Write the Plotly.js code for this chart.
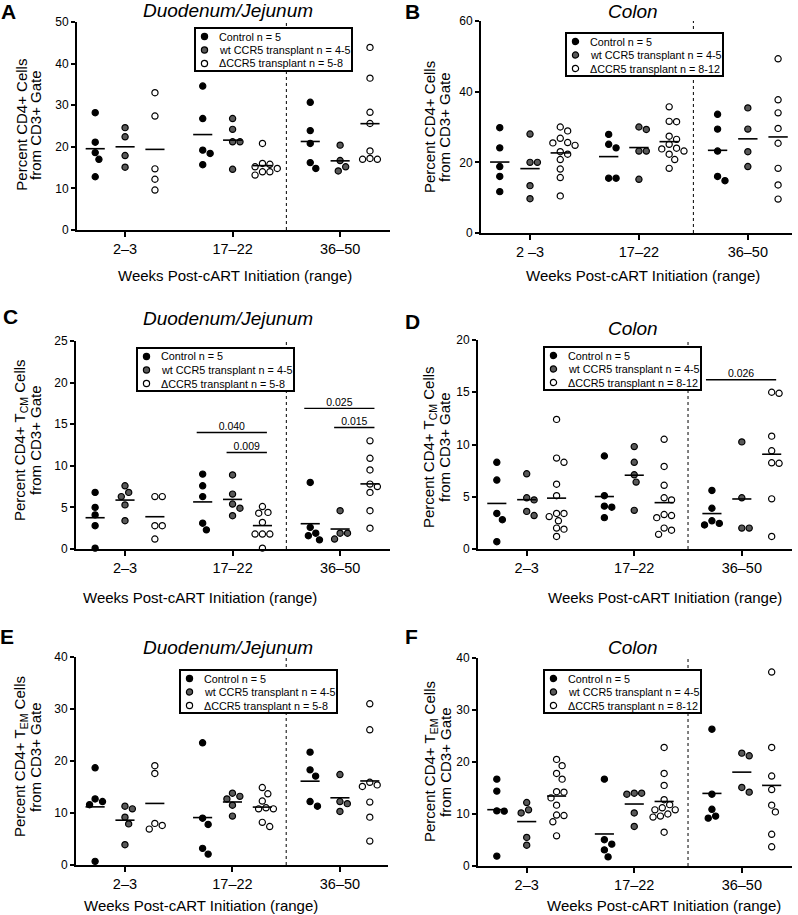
<!DOCTYPE html>
<html>
<head>
<meta charset="utf-8">
<script src="https://cdn.plot.ly/plotly-3.0.1.min.js"></script>
<style>
  html, body { margin: 0; padding: 0; background: #fff; }
  #chart { width: 798px; height: 915px; }
</style>
</head>
<body>
<div id="chart"></div>
<script>
// Values. Each array holds one list per week range
// (2-3, 17-22, 36-50 weeks post-cART).
const weekRanges = ['2–3', '17–22', '36–50'];
const weekRangesB = ['2 –3', '17–22', '36–50'];
const groupLabels = ['Control n = 5', 'wt CCR5 transplant n = 4-5', 'ΔCCR5 transplant n = '];

// A: CD4+ of CD3+, duodenum/jejunum
const aControl = [[28.2, 21.1, 18.6, 17.0, 12.8], [34.6, 26.8, 19.2, 18.4, 15.7], [30.7, 23.9, 20.8, 16.2, 14.8]];
const aWt = [[24.6, 22.4, 17.9, 15.1], [26.8, 24.2, 21.2, 21.2, 14.6], [20.4, 16.7, 15.2, 14.2]];
const aDelta = [[33.0, 27.4, 14.7, 12.2, 9.6], [20.8, 16.0, 15.8, 15.2, 14.8, 14.0, 14.0, 13.2], [43.9, 36.5, 28.3, 25.6, 19.0, 17.2, 17.0, 17.0]];

// B: CD4+ of CD3+, colon
const bControl = [[29.8, 24.1, 18.8, 16.0, 11.7], [27.9, 25.1, 24.1, 15.5, 15.5], [33.6, 29.4, 23.2, 16.0, 14.8]];
const bWt = [[28.0, 20.0, 20.0, 13.4, 9.7], [30.0, 29.3, 23.2, 23.2, 15.2], [35.4, 29.4, 23.0, 18.8]];
const bDelta = [[30.0, 28.9, 26.8, 25.6, 25.5, 24.8, 23.0, 22.3, 20.8, 18.1, 15.7, 10.5], [35.7, 31.6, 31.5, 27.4, 26.5, 25.1, 24.0, 23.8, 23.2, 22.3, 20.8, 18.3], [49.3, 37.7, 34.0, 29.6, 25.4, 18.3, 13.6, 9.6]];

// C: CD4+ TCM of CD3+, duodenum/jejunum
const cControl = [[6.8, 5.0, 4.1, 2.8, 0.1], [9.0, 7.6, 6.3, 3.1, 2.3], [8.0, 2.6, 1.9, 1.6, 1.1]];
const cWt = [[7.6, 6.8, 6.3, 5.3, 3.4], [8.9, 6.6, 5.4, 4.9, 4.0], [4.6, 1.9, 1.9, 1.2]];
const cDelta = [[6.3, 6.3, 2.8, 2.8, 1.2], [5.1, 4.4, 4.3, 3.2, 1.8, 1.8, 1.8, 0.1], [13.0, 10.9, 9.5, 7.8, 7.5, 6.8, 4.6, 2.5]];

// D: CD4+ TCM of CD3+, colon
const dControl = [[8.3, 6.6, 3.4, 2.8, 0.7], [8.9, 5.1, 4.1, 4.0, 3.0], [5.6, 3.9, 2.7, 2.45, 2.3]];
const dWt = [[7.2, 4.9, 4.7, 3.6, 3.2], [9.8, 8.3, 7.1, 6.4, 3.7], [10.25, 4.9, 2.0, 2.0]];
const dDelta = [[12.4, 8.7, 8.3, 6.2, 5.1, 3.4, 3.4, 3.1, 2.7, 2.0, 1.9, 1.2], [10.5, 7.9, 6.1, 4.9, 4.7, 3.3, 3.2, 3.0, 2.0, 1.8, 1.4], [15.0, 14.9, 10.8, 9.4, 8.25, 8.2, 4.8, 1.2]];

// E: CD4+ TEM of CD3+, duodenum/jejunum
const eControl = [[18.7, 12.7, 12.2, 11.6, 0.7], [23.5, 9.0, 7.8, 3.2, 2.1], [21.7, 18.3, 17.1, 12.2, 11.3]];
const eWt = [[11.3, 10.8, 9.2, 7.9, 3.9], [13.8, 13.2, 12.7, 11.5, 9.4], [17.4, 12.2, 11.8, 10.3]];
const eDelta = [[19.1, 17.6, 8.0, 7.6, 6.9], [14.9, 13.7, 12.3, 11.0, 10.8, 10.8, 8.2, 7.4], [31.0, 26.0, 15.9, 15.4, 15.1, 12.1, 9.2, 4.6]];

// F: CD4+ TEM of CD3+, colon
const fControl = [[16.7, 14.4, 10.6, 10.55, 1.9], [16.7, 5.05, 4.2, 3.1, 1.75], [26.3, 13.8, 10.9, 9.6, 9.2]];
const fWt = [[12.2, 10.8, 10.2, 5.5, 4.0], [14.0, 14.0, 13.8, 10.2, 7.6], [21.7, 21.2, 15.1, 14.2]];
const fDelta = [[20.5, 19.3, 17.8, 16.7, 14.3, 14.2, 13.1, 11.7, 9.8, 9.7, 8.5, 5.8], [22.8, 17.8, 15.5, 12.75, 11.8, 11.2, 10.8, 10.8, 10.0, 9.6, 9.4, 6.5], [37.3, 22.8, 17.3, 14.7, 11.7, 10.4, 6.1, 3.7]];

// significance bars: [week range, from group, to group, y value, p]
const cSig = [[1, 0, 2, 14.0, '0.040'], [1, 1, 2, 11.6, '0.009'], [2, 0, 2, 16.9, '0.025'], [2, 1, 2, 14.6, '0.015']];
const dSig = [[2, 0, 2, 16.2, '0.026']];

// ---- look ----
const FONT = 'Liberation Sans, Arial, Helvetica, sans-serif';
const W = 798, H = 915;
const CAT_POS = [0, 3.6, 7.2];      // week-range centres on the x axis
const GROUP_OFF = [-1, 0, 1];        // control / wt / delta within a range
const FILL = ['#000000', '#595959', '#ffffff'];
const DOT = 7.4;                     // marker diameter incl. outline, px

// panel boxes are in page pixels: [left, right, top, bottom]
const panels = [
    { data: [aControl, aWt, aDelta], sig: [], box: [77, 390, 22, 230], xr: [-1.61, 8.87], ymax: 50, dtick: 10,
      ticks: weekRanges, title: 'Duodenum/Jejunum', titleXY: [228, 10], letter: 'A', letterXY: [8, 11], cell: '',
      xTitle: [235, 275], yTitle: [20.7, 35, 125], legendXY: [195, 28], nDelta: '5-8' },
    { data: [bControl, bWt, bDelta], sig: [], box: [481, 792, 21, 233], xr: [-1.62, 8.66], ymax: 60, dtick: 20,
      ticks: weekRangesB, title: 'Colon', titleXY: [633, 11], letter: 'B', letterXY: [412, 11], cell: '',
      xTitle: [643, 275], yTitle: [430, 445, 127], legendXY: [566, 33], nDelta: '8-12' },
    { data: [cControl, cWt, cDelta], sig: cSig, box: [76, 390, 341, 549], xr: [-1.64, 8.87], ymax: 25, dtick: 5,
      ticks: weekRanges, title: 'Duodenum/Jejunum', titleXY: [228, 318], letter: 'C', letterXY: [10, 316], cell: 'CM',
      xTitle: [200, 597], yTitle: [20, 35, 440], legendXY: [137, 348], nDelta: '5-8' },
    { data: [dControl, dWt, dDelta], sig: dSig, box: [478, 792, 340, 549], xr: [-1.63, 8.88], ymax: 20, dtick: 5,
      ticks: weekRanges, title: 'Colon', titleXY: [633, 328], letter: 'D', letterXY: [412, 321], cell: 'CM',
      xTitle: [665, 597], yTitle: [430, 445, 447], legendXY: [544, 347], nDelta: '8-12' },
    { data: [eControl, eWt, eDelta], sig: [], box: [76, 388, 657, 865], xr: [-1.64, 8.81], ymax: 40, dtick: 10,
      ticks: weekRanges, title: 'Duodenum/Jejunum', titleXY: [228, 647], letter: 'E', letterXY: [7, 636], cell: 'EM',
      xTitle: [201, 905], yTitle: [20, 35, 757], legendXY: [180, 670], nDelta: '5-8' },
    { data: [fControl, fWt, fDelta], sig: [], box: [478, 792, 658, 866], xr: [-1.63, 8.88], ymax: 40, dtick: 10,
      ticks: weekRanges, title: 'Colon', titleXY: [633, 647], letter: 'F', letterXY: [411, 636], cell: 'EM',
      xTitle: [664, 905], yTitle: [430, 445, 762], legendXY: [544, 670], nDelta: '8-12' }
];

const px = x => x / W;
const py = y => 1 - y / H;
const mean = a => a.reduce((s, v) => s + v, 0) / a.length;

// Prism-like scatter: slide a dot sideways until it no longer touches a placed one
function swarm(values, sx, sy) {
    const placed = [];
    const offs = new Array(values.length);
    const order = values.map((v, k) => k).sort((a, b) => values[b] - values[a]);
    order.forEach(k => {
        const yp = values[k] * sy;
        for (let step = 0; step < 60; step++) {
            const m = Math.ceil(step / 2) * DOT / 4;
            const off = step % 2 === 1 ? m : -m;
            const hit = placed.some(q => (q[0] - off) ** 2 + (q[1] - yp) ** 2 < DOT * DOT);
            if (!hit) {
                placed.push([off, yp]);
                offs[k] = off / sx;
                break;
            }
        }
    });
    return offs;
}

const traces = [];
const layout = {
    width: W, height: H,
    margin: { l: 0, r: 0, t: 0, b: 0 },
    paper_bgcolor: '#ffffff', plot_bgcolor: '#ffffff',
    showlegend: false,
    font: { family: FONT, color: '#000000' },
    shapes: [], annotations: []
};

function note(text, x, y, size, extra) {
    layout.annotations.push(Object.assign({
        text: text, xref: 'paper', yref: 'paper', x: px(x), y: py(y),
        xanchor: 'center', yanchor: 'middle', showarrow: false,
        font: { family: FONT, size: size, color: '#000000' }
    }, extra || {}));
}

panels.forEach((p, i) => {
    const n = i === 0 ? '' : String(i + 1);
    const xref = 'x' + n, yref = 'y' + n;
    const [x0, x1, y0, y1] = p.box;
    const sx = (x1 - x0) / (p.xr[1] - p.xr[0]);
    const sy = (y1 - y0) / p.ymax;

    layout['xaxis' + n] = {
        domain: [px(x0), px(x1)], anchor: yref, range: p.xr,
        tickvals: CAT_POS, ticktext: p.ticks, tickfont: { size: 14.5 },
        showline: true, linewidth: 2, linecolor: '#000', ticks: 'outside', ticklen: 5, tickwidth: 2, tickcolor: '#000',
        showgrid: false, zeroline: false, fixedrange: true
    };
    layout['yaxis' + n] = {
        domain: [py(y1), py(y0)], anchor: xref, range: [0, p.ymax], tick0: 0, dtick: p.dtick,
        tickfont: { size: 12 },
        showline: true, linewidth: 2, linecolor: '#000', ticks: 'outside', ticklen: 4, tickwidth: 2, tickcolor: '#000',
        showgrid: false, zeroline: false, fixedrange: true
    };

    // dots, one trace per group
    const meanX = [], meanY = [];
    p.data.forEach((groupVals, g) => {
        const xs = [], ys = [];
        groupVals.forEach((vals, c) => {
            const centre = CAT_POS[c] + GROUP_OFF[g];
            const offs = swarm(vals, sx, sy);
            vals.forEach((v, k) => { xs.push(centre + offs[k]); ys.push(v); });
            const m = mean(vals);
            meanX.push(centre - 0.32, centre + 0.32, null);
            meanY.push(m, m, null);
        });
        traces.push({
            type: 'scatter', mode: 'markers', x: xs, y: ys, xaxis: xref, yaxis: yref,
            cliponaxis: false, hoverinfo: 'y',
            marker: { size: 6.2, color: FILL[g], line: { color: '#000', width: 1.2 } }
        });
    });

    // group means
    traces.push({
        type: 'scatter', mode: 'lines', x: meanX, y: meanY, xaxis: xref, yaxis: yref,
        hoverinfo: 'skip', line: { color: '#000', width: 1.6 }
    });

    // p-value bars
    if (p.sig.length) {
        const bx = [], by = [], tx = [], ty = [], tt = [];
        p.sig.forEach(([c, from, to, y, label]) => {
            const a = CAT_POS[c] + GROUP_OFF[from] - 0.2;
            const b = CAT_POS[c] + GROUP_OFF[to] + 0.15;
            bx.push(a, b, null); by.push(y, y, null);
            tx.push((a + b) / 2); ty.push(y); tt.push(label);
        });
        traces.push({
            type: 'scatter', mode: 'lines', x: bx, y: by, xaxis: xref, yaxis: yref,
            hoverinfo: 'skip', line: { color: '#000', width: 1.4 }
        });
        traces.push({
            type: 'scatter', mode: 'text', x: tx, y: ty, text: tt, textposition: 'top center',
            xaxis: xref, yaxis: yref, hoverinfo: 'skip', cliponaxis: false,
            textfont: { family: FONT, size: 10.5, color: '#000' }
        });
    }

    // dotted separator before the last week range
    layout.shapes.push({
        type: 'line', xref: xref, yref: yref + ' domain',
        x0: (CAT_POS[1] + CAT_POS[2]) / 2, x1: (CAT_POS[1] + CAT_POS[2]) / 2, y0: 0, y1: 1,
        line: { color: '#000', width: 1, dash: 'dot' }
    });

    // legend box
    const [lx, ly] = p.legendXY;
    layout.shapes.push({
        type: 'rect', xref: 'paper', yref: 'paper',
        x0: px(lx), x1: px(lx + 157), y0: py(ly + 43), y1: py(ly),
        fillcolor: '#ffffff', line: { color: '#000', width: 2 }
    });
    groupLabels.forEach((label, g) => {
        const rowY = ly + 8.5 + g * 13.5;
        layout.shapes.push({
            type: 'circle', xref: 'paper', yref: 'paper',
            xsizemode: 'pixel', ysizemode: 'pixel', xanchor: px(lx + 9.5), yanchor: py(rowY),
            x0: -3.1, x1: 3.1, y0: -3.1, y1: 3.1,
            fillcolor: FILL[g], line: { color: '#000', width: 1.2 }
        });
        note(g === 2 ? label + p.nDelta : label, lx + 22, rowY, 10.8, { xanchor: 'left' });
    });

    // titles and labels
    note('<i>' + p.title + '</i>', p.titleXY[0], p.titleXY[1], 19);
    note('<b>' + p.letter + '</b>', p.letterXY[0], p.letterXY[1], 21);
    note('Weeks Post-cART Initiation (range)', p.xTitle[0], p.xTitle[1], 15);
    const line1 = p.cell ? 'Percent CD4+ T<sub>' + p.cell + '</sub> Cells' : 'Percent CD4+ Cells';
    note(line1, p.yTitle[0], p.yTitle[2], 15, { textangle: -90 });
    note('from CD3+ Gate', p.yTitle[1], p.yTitle[2], 15, { textangle: -90 });
});

Plotly.newPlot('chart', traces, layout, { displayModeBar: false, staticPlot: true });
</script>
</body>
</html>
